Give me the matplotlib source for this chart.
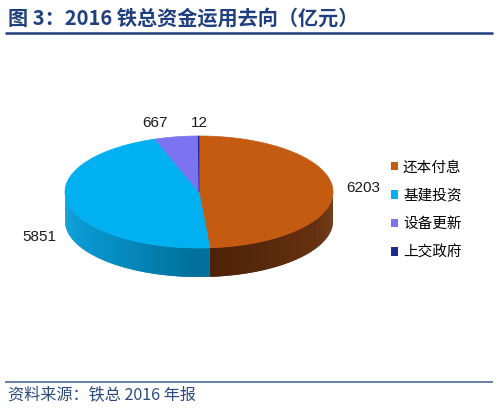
import numpy as np
import matplotlib
matplotlib.use('Agg')
import matplotlib.pyplot as plt
from matplotlib.patches import Polygon, Patch
from matplotlib.colors import to_rgb

plt.rcParams['font.family'] = ['Noto Sans CJK SC', 'DejaVu Sans']

# ---------------- data ----------------
categories = ['还本付息', '基建投资', '设备更新', '上交政府']
values = [6203, 5851, 667, 12]
title_text = '图 3：2016 铁总资金运用去向（亿元）'
source_text = '资料来源：铁总 2016 年报'

# ---------------- style ----------------
top_colors = ['#C55A11', '#00B0F0', '#7B73F0', '#1F2A8C']
side_light = ['#6A3311', '#0A9FD8', '#5A52C0', '#152070']
side_dark = ['#4A2006', '#006E9A', '#3A3290', '#101850']
label_offsets = [(30, -2), (-29, 33), (-21, -14), (1, -13)]

fig = plt.figure(figsize=(5.0, 4.09), dpi=100)
ax = fig.add_axes([0, 0, 1, 1])
ax.set_xlim(0, 500)
ax.set_ylim(409, 0)
ax.axis('off')

cx, cy, a, b, depth = 199, 192, 134, 56, 29


def pt(theta_deg, dy=0.0):
    t = np.radians(theta_deg)
    return (cx + a * np.cos(t), cy - b * np.sin(t) + dy)


total = float(sum(values))
spans = np.array(values) / total * 360.0
starts = 90.0 - np.concatenate([[0.0], np.cumsum(spans)[:-1]])
ends = starts - spans

# side walls (front half only), overlapping strips to avoid seams
for i in range(len(values)):
    s, e = starts[i], ends[i]
    for shift in (0, 360, -360):
        lo = max(e + shift, -180.0)
        hi = min(s + shift, 0.0)
        if hi <= lo:
            continue
        n = max(int((hi - lo) / 0.5), 2)
        th = np.linspace(lo, hi, n + 1)
        for j in range(n):
            t0, t1 = th[j], min(th[j + 1] + 0.6, hi)
            m = 0.5 * (th[j] + th[j + 1])
            w = abs(np.cos(np.radians(m)))
            c = (1 - w) * np.array(to_rgb(side_dark[i])) + w * np.array(to_rgb(side_light[i]))
            tt = np.linspace(t0, t1, 4)
            poly = [pt(t) for t in tt] + [pt(t, depth) for t in tt[::-1]]
            ax.add_patch(Polygon(poly, closed=True, fc=c, ec='none', lw=0))

# top faces
for i in range(len(values)):
    n = max(int(spans[i] * 2), 2)
    th = np.linspace(starts[i], ends[i], n + 1)
    poly = [(cx, cy)] + [pt(t) for t in th]
    ax.add_patch(Polygon(poly, closed=True, fc=top_colors[i], ec=top_colors[i], lw=0.5))

# data labels
mids = (starts + ends) / 2.0
for i, v in enumerate(values):
    x, y = pt(mids[i])
    dx, dy = label_offsets[i]
    ax.text(x + dx, y + dy, f'{v}', ha='center', va='center', fontsize=11,
            family=['Liberation Sans', 'DejaVu Sans'], color='#1a1a1a')

# legend
handles = [Patch(facecolor=c, edgecolor='none') for c in top_colors]
ax.legend(handles, categories, loc='center left', bbox_to_anchor=(391, 210),
          bbox_transform=ax.transData, frameon=False, fontsize=10.5,
          handlelength=0.48, handleheight=0.48, handletextpad=0.35,
          labelspacing=0.99, borderpad=0, borderaxespad=0)

# title and rule
ax.text(8, 18, title_text, fontsize=14.5, fontweight='bold', color='#203F7E',
        va='center', ha='left')
ax.plot([5, 493], [33, 33], color='#203F7E', lw=1.8, solid_capstyle='butt')

# source and rule
ax.plot([5, 493], [382, 382], color='#4A6A9A', lw=1.2, solid_capstyle='butt')
ax.text(8, 395, source_text, fontsize=11.6, style='italic', color='#2A4A80',
        va='center', ha='left')

fig.savefig('out.png', dpi=100)
